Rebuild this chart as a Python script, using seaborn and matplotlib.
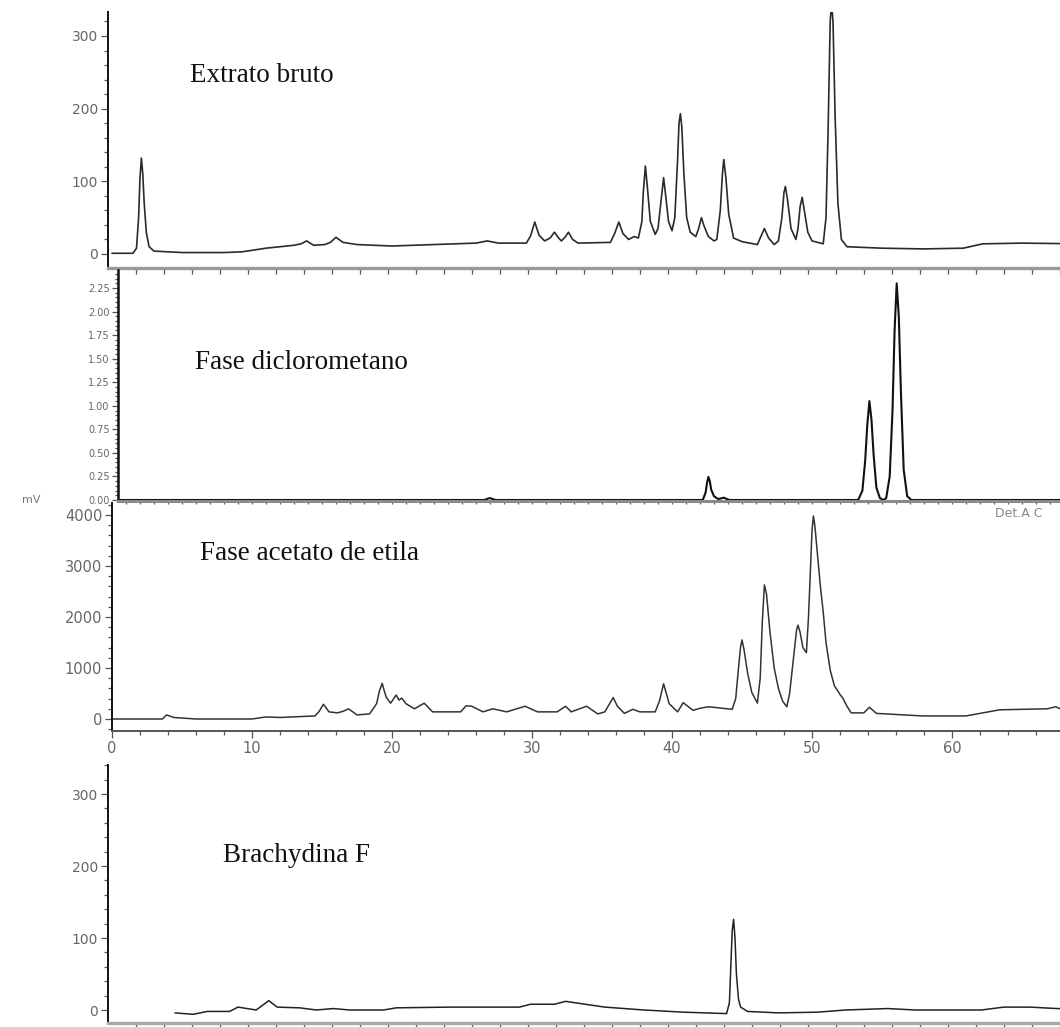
import numpy as np
import matplotlib
matplotlib.use("Agg")
import matplotlib.pyplot as plt
import seaborn as sns
from matplotlib.ticker import MultipleLocator, FormatStrFormatter

# --- data (time in min, signal) ---
# Extrato bruto (mV)
t_bruto = [0.0, 1.5, 1.75, 1.9, 2.0, 2.1, 2.2, 2.3, 2.45, 2.65,
           3.0, 5.0, 8.0, 9.3, 11.0, 13.0, 13.5, 13.9, 14.4, 15.2,
           15.6, 16.0, 16.5, 17.5, 20.0, 23.0, 26.0, 26.8, 27.6, 29.6,
           29.9, 30.2, 30.5, 30.9, 31.3, 31.6, 31.9, 32.1, 32.4, 32.6,
           32.9, 33.3, 35.6, 35.9, 36.2, 36.5, 36.9, 37.3, 37.6, 37.85,
           37.95, 38.1, 38.25, 38.45, 38.8, 39.0, 39.2, 39.4, 39.55, 39.75,
           40.0, 40.2, 40.4, 40.5, 40.6, 40.7, 40.85, 41.05, 41.3, 41.7,
           41.9, 42.1, 42.3, 42.6, 43.0, 43.2, 43.45, 43.6, 43.7, 43.85,
           44.05, 44.4, 45.0, 46.1, 46.3, 46.6, 46.9, 47.3, 47.6, 47.85,
           48.0, 48.1, 48.25, 48.5, 48.85, 49.0, 49.15, 49.3, 49.45, 49.7,
           50.0, 50.8, 51.0, 51.15, 51.3, 51.4, 51.5, 51.65, 51.85, 52.1,
           52.5, 55.0, 58.0, 60.8, 62.2, 65.0, 69.0]
v_bruto = [1, 1, 8, 50, 105, 132, 110, 70, 30, 10,
           4, 2, 2, 3, 8, 12, 14, 18, 12, 13,
           16, 23, 16, 13, 11, 13, 15, 18, 15, 15,
           25, 44, 26, 18, 22, 30, 22, 18, 24, 30,
           20, 15, 16, 28, 44, 28, 20, 24, 22, 45,
           85, 121, 90, 45, 27, 35, 70, 105, 80, 45,
           32, 50, 130, 180, 193, 175, 110, 50, 30, 24,
           35, 50, 38, 24, 18, 20, 60, 110, 130, 105,
           55, 22, 17, 13, 22, 35, 22, 13, 18, 50,
           85, 93, 75, 35, 20, 35, 65, 78, 60, 30,
           18, 14, 50, 170, 320, 345, 320, 190, 70, 20,
           10, 8, 7, 8, 14, 15, 14]

# Fase diclorometano
t_dcm = [0.4, 26.6, 26.85, 27.0, 27.2, 27.4, 42.2, 42.4, 42.5, 42.6,
         42.7, 42.8, 43.0, 43.3, 43.6, 43.7, 43.85, 44.1, 53.3, 53.6,
         53.8, 53.95, 54.1, 54.25, 54.4, 54.6, 54.85, 55.1, 55.3, 55.55,
         55.75, 55.9, 56.05, 56.2, 56.35, 56.55, 56.8, 57.1, 69.0]
v_dcm = [0, 0, 0.015, 0.02, 0.01, 0, 0, 0.08, 0.18, 0.245,
         0.2, 0.11, 0.04, 0.01, 0.02, 0.025, 0.015, 0, 0, 0.1,
         0.42, 0.8, 1.05, 0.85, 0.48, 0.13, 0.02, 0, 0.02, 0.25,
         0.95, 1.8, 2.3, 1.95, 1.15, 0.32, 0.04, 0, 0]

# Fase acetato de etila (mV)
t_acet = [0.0, 3.6, 3.9, 4.4, 6.0, 10.0, 11.0, 12.0, 14.5, 14.8,
          15.1, 15.5, 16.1, 16.5, 16.9, 17.5, 18.4, 18.9, 19.1, 19.3,
          19.45, 19.6, 19.9, 20.3, 20.5, 20.7, 21.0, 21.6, 22.3, 22.9,
          24.9, 25.3, 25.7, 26.5, 27.2, 28.2, 28.9, 29.5, 30.4, 31.8,
          32.4, 32.8, 33.9, 34.7, 35.2, 35.5, 35.8, 36.1, 36.6, 37.2,
          37.7, 38.8, 39.1, 39.4, 39.8, 40.4, 40.8, 41.5, 42.0, 42.6,
          44.3, 44.55, 44.75, 44.9, 45.0, 45.15, 45.4, 45.7, 46.1, 46.3,
          46.45, 46.6, 46.75, 47.0, 47.3, 47.6, 47.9, 48.2, 48.4, 48.7,
          48.9, 49.0, 49.15, 49.35, 49.6, 49.75, 49.9, 50.0, 50.1, 50.2,
          50.4, 50.6, 50.8, 51.0, 51.3, 51.6, 51.8, 52.0, 52.2, 52.5,
          52.8, 53.7, 54.1, 54.6, 57.9, 61.0, 63.4, 66.8, 67.4, 68.0,
          69.0]
v_acet = [0, 0, 80, 30, 0, 0, 40, 30, 60, 150,
          290, 140, 120, 150, 200, 80, 100, 300, 550, 700,
          550, 420, 310, 470, 370, 410, 300, 200, 310, 140,
          140, 260, 250, 140, 200, 140, 200, 250, 140, 140,
          250, 140, 250, 100, 140, 280, 420, 250, 110, 190,
          140, 140, 350, 690, 300, 140, 320, 170, 210, 240,
          190, 400, 1000, 1420, 1550, 1350, 900, 520, 310, 800,
          1900, 2630, 2450, 1700, 1000, 600, 350, 240, 500, 1250,
          1750, 1840, 1700, 1400, 1300, 2000, 3000, 3700, 3980, 3800,
          3200, 2600, 2100, 1500, 960, 650, 570, 480, 410, 250,
          120, 120, 230, 110, 60, 60, 180, 200, 240, 170,
          170]

# Brachydina F (mV)
t_brachy = [4.5, 5.8, 6.8, 8.4, 9.0, 10.3, 11.2, 11.8, 13.4, 14.6,
            15.8, 17.0, 19.4, 20.3, 24.1, 29.1, 29.9, 31.6, 32.4, 35.2,
            38.0, 40.8, 43.9, 44.1, 44.2, 44.3, 44.4, 44.5, 44.6, 44.75,
            44.9, 45.4, 47.6, 50.4, 52.4, 55.4, 57.4, 62.1, 63.7, 65.6,
            67.5, 69.0]
v_brachy = [-4, -6, -2, -2, 4, 0, 13, 4, 3, 0,
            2, 0, 0, 3, 4, 4, 8, 8, 12, 4,
            0, -3, -5, 10, 60, 110, 126, 100, 50, 15,
            4, -2, -4, -3, 0, 2, 0, 0, 4, 4,
            2, 2]

panel_titles = ["Extrato bruto", "Fase diclorometano",
                "Fase acetato de etila", "Brachydina F"]

sns.set_style("ticks")
plt.rcParams["font.family"] = ["DejaVu Sans"]
plt.rcParams["lines.solid_joinstyle"] = "round"

W, H = 1060, 1027
X0, PPM = 112, 14.0   # pixel of t = 0 and pixels per minute

fig = plt.figure(figsize=(W / 100, H / 100), dpi=100)


def px2t(px):
    return (px - X0) / PPM


def panel(left, top, right, bottom, y0, ppu):
    ax = fig.add_axes([left / W, 1 - bottom / H, (right - left) / W, (bottom - top) / H])
    ax.set_facecolor("none")
    ax.set_xlim(px2t(left), px2t(right))
    ax.set_ylim((y0 - bottom) / ppu, (y0 - top) / ppu)
    ax.spines["top"].set_visible(False)
    ax.spines["right"].set_visible(False)
    ax.spines["left"].set_color("#111111")
    ax.spines["left"].set_linewidth(1.4)
    ax.tick_params(which="both", direction="out", colors="#555555", labelcolor="#666666",
                   width=0.9)
    ax.tick_params(which="major", length=5, labelsize=10, pad=2)
    ax.tick_params(which="minor", length=3)
    ax.set_xlabel("")
    ax.set_ylabel("")
    return ax


def trace(ax, t, v, color="#222222", lw=1.1):
    sns.lineplot(x=t, y=v, ax=ax, color=color, linewidth=lw, estimator=None, sort=False)


ticks2 = np.arange(1.714, 69.5, 2.0)

# panel 1 - extrato bruto
ax1 = panel(108, 12, 1080, 268, 254, 0.7267)
trace(ax1, t_bruto, v_bruto, color="#2a2a2a", lw=1.2)
ax1.set_xticks(ticks2)
ax1.tick_params(axis="x", labelbottom=False, length=4)
ax1.spines["bottom"].set_color("#9a9a9a")
ax1.spines["bottom"].set_linewidth(2.4)

# panel 2 - diclorometano
ax2 = panel(118, 270, 1080, 501, 500, 94.2)
trace(ax2, t_dcm, v_dcm, color="#111111", lw=1.5)
ax2.yaxis.set_major_locator(MultipleLocator(0.25))
ax2.yaxis.set_minor_locator(MultipleLocator(0.05))
ax2.yaxis.set_major_formatter(FormatStrFormatter("%.2f"))
ax2.tick_params(axis="y", which="major", labelsize=7, length=4)
ax2.tick_params(axis="y", which="minor", length=2)
ax2.spines["left"].set_linewidth(1.8)
ax2.xaxis.set_major_locator(MultipleLocator(1))
ax2.tick_params(axis="x", which="major", labelbottom=False, length=2)
ax2.spines["bottom"].set_color("#8a8a8a")
ax2.spines["bottom"].set_linewidth(2.2)

# panel 3 - acetato de etila
ax3 = panel(112, 503, 1080, 731, 719, 0.051)
trace(ax3, t_acet, v_acet, color="#333333", lw=1.1)
ax3.yaxis.set_major_locator(MultipleLocator(1000))
ax3.yaxis.set_minor_locator(MultipleLocator(200))
ax3.xaxis.set_major_locator(MultipleLocator(10))
ax3.xaxis.set_minor_locator(MultipleLocator(2))
ax3.tick_params(axis="both", which="major", labelsize=10.5)
ax3.spines["bottom"].set_color("#555555")
ax3.spines["bottom"].set_linewidth(1.4)

# panel 4 - brachydina F
ax4 = panel(108, 765, 1080, 1023, 1010, 0.72)
trace(ax4, t_brachy, v_brachy, color="#222222", lw=1.1)
ax4.set_xticks(ticks2)
ax4.tick_params(axis="x", labelbottom=False, length=4)
ax4.spines["bottom"].set_color("#a8a8a8")
ax4.spines["bottom"].set_linewidth(2.4)

for ax in (ax1, ax4):
    ax.set_yticks([0, 100, 200, 300])
    ax.yaxis.set_minor_locator(MultipleLocator(20))

# sample names
title_pos = [(190, 82), (195, 369), (200, 560), (223, 862)]
for (x, y), name in zip(title_pos, panel_titles):
    fig.text(x / W, 1 - y / H, name, fontsize=19.5, family="Liberation Serif",
             color="#111111", va="baseline", ha="left")

fig.text(22 / W, 1 - 503 / H, "mV", fontsize=8, color="#777777", va="baseline")
fig.text(995 / W, 1 - 517 / H, "Det.A C", fontsize=9, color="#888888", va="baseline")

fig.savefig("out.png", dpi=100)
